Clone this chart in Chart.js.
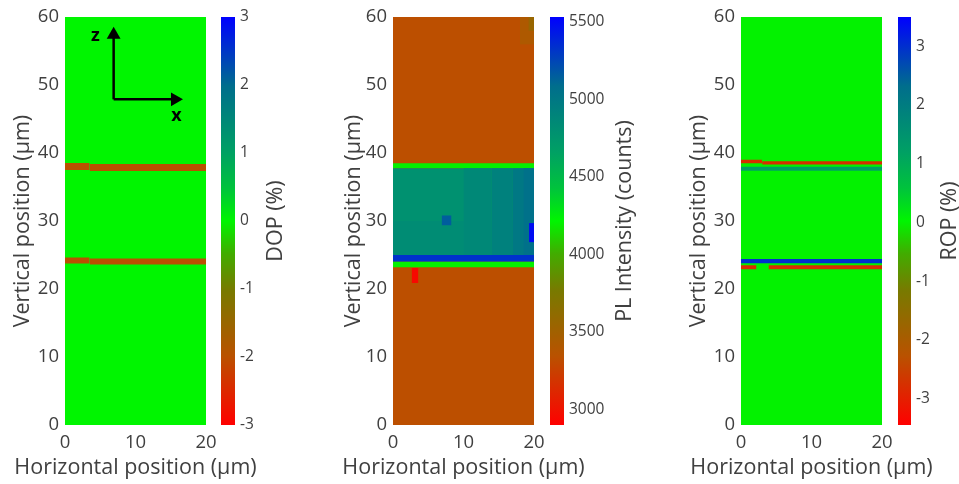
<!DOCTYPE html>
<html>
<head>
<meta charset="utf-8">
<script src="https://cdn.jsdelivr.net/npm/chart.js@4.4.0/dist/chart.umd.min.js"></script>
<style>
    html, body { margin: 0; padding: 0; background: #fff; width: 959px; height: 484px; overflow: hidden; position: relative; }
    canvas { position: absolute; top: 0; }
</style>
</head>
<body>
<script>
const xTicks = [0, 10, 20];
const yTicks = [0, 10, 20, 30, 40, 50, 60];
const dopTicks = [-3, -2, -1, 0, 1, 2, 3];
const plTicks = [3000, 3500, 4000, 4500, 5000, 5500];
const ropTicks = [-3, -2, -1, 0, 1, 2, 3];

const dopRange = [-3, 3];
const plRange = [2900, 5530];
const ropRange = [-3.45, 3.5];

// cells: [x0, x1, y0, y1, value]  (µm, µm, µm, µm, colour value)
const dopCells = [
    [0, 20, 0, 60, 0],
    [0, 3.5, 37.5, 38.55, -2],
    [3.5, 20, 37.35, 38.4, -2],
    [0, 3.5, 23.75, 24.65, -2],
    [3.5, 20, 23.6, 24.5, -2]
];

const plCells = [
    [0, 20, 0, 60, 3330],
    [18, 20, 56, 60, 3420],
    [19.2, 20, 58, 60, 3560],
    [0, 20, 37.75, 38.5, 4200],
    [0, 20, 25, 37.75, 4790],
    [0, 20, 25, 30, 4830],
    [10, 14, 25, 37.75, 4860],
    [14, 17, 25, 37.75, 4920],
    [17, 20, 25, 37.75, 5000],
    [18.5, 20, 25, 37.75, 5060],
    [0, 20, 24, 25, 5330],
    [0, 20, 23.2, 24, 4200],
    [6.9, 8.3, 29.4, 30.8, 5150],
    [19.3, 20, 26.9, 29.7, 5480],
    [2.65, 3.6, 20.9, 23.1, 2950]
];

const ropCells = [
    [0, 20, 0, 60, 0],
    [0, 3, 38.5, 39.0, -2.8],
    [3, 20, 38.3, 38.8, -2.8],
    [0, 20, 37.4, 38.0, 1.2],
    [0, 20, 23.8, 24.4, 3],
    [0, 2.2, 22.9, 23.5, -2.8],
    [3.9, 20, 22.9, 23.5, -2.8]
];

// z / x direction arrows on the first map
const arrowUp = [[6.9, 47.9], [6.9, 57.4]];
const arrowRight = [[6.9, 47.9], [15.6, 47.9]];
const arrowText = [['z', 4.3, 57.3], ['x', 15.8, 45.4]];

const cmapStops = [0, 0.17, 0.33, 0.42, 0.5, 0.58, 0.67, 0.83, 1];
const cmapColors = [[255, 0, 0], [185, 82, 0], [120, 122, 0], [65, 172, 0], [0, 245, 0], [0, 195, 60], [0, 160, 100], [0, 110, 140], [0, 0, 255]];

const FONT = "'Open Sans', 'Noto Sans', sans-serif";
const TEXT = '#404040';
const TOP = 17, BOTTOM = 425, PLOT_W = 141;
const TITLE_SIZE = 21.5;

function cmap(v, range) {
    let t = (v - range[0]) / (range[1] - range[0]);
    t = Math.max(0, Math.min(1, t));
    for (let i = 1; i < cmapStops.length; i++) {
        if (t <= cmapStops[i]) {
            const f = (t - cmapStops[i - 1]) / (cmapStops[i] - cmapStops[i - 1]);
            const a = cmapColors[i - 1], b = cmapColors[i];
            const c = a.map((ch, k) => Math.round(ch + (b[k] - ch) * f));
            return `rgb(${c[0]},${c[1]},${c[2]})`;
        }
    }
    return 'rgb(0,0,255)';
}

const panels = [
    { cells: dopCells, range: dopRange, ticks: dopTicks, label: 'DOP (%)', plotLeft: 65, yTitleX: 23, barLeft: 221, barWidth: 14, barTitleX: 276, arrows: true },
    { cells: plCells, range: plRange, ticks: plTicks, label: 'PL Intensity (counts)', plotLeft: 393, yTitleX: 354, barLeft: 550, barWidth: 14, barTitleX: 625, arrows: false },
    { cells: ropCells, range: ropRange, ticks: ropTicks, label: 'ROP (%)', plotLeft: 741, yTitleX: 699, barLeft: 898, barWidth: 13, barTitleX: 950, arrows: false }
];

function makeMap(p) {
    const canvas = document.createElement('canvas');
    const left = p.plotLeft - 65;
    const width = 65 + PLOT_W + 80;
    canvas.width = width;
    canvas.height = 484;
    canvas.style.left = left + 'px';
    document.body.appendChild(canvas);

    const datasets = p.cells.map((c, i) => ({
        data: [{ x: c[0], y: c[3] }, { x: c[1], y: c[3] }],
        fill: { value: c[2] },
        backgroundColor: cmap(c[4], p.range),
        borderColor: 'rgba(0,0,0,0)',
        borderWidth: 0,
        pointRadius: 0,
        pointHoverRadius: 0,
        order: p.cells.length - i + 10
    }));

    if (p.arrows) {
        [[arrowUp, 0], [arrowRight, 90]].forEach(([pts, rot]) => {
            datasets.push({
                data: pts.map(q => ({ x: q[0], y: q[1] })),
                fill: false,
                borderColor: '#000',
                borderWidth: 2.5,
                pointStyle: 'triangle',
                pointRotation: rot,
                pointRadius: [0, 8],
                pointBackgroundColor: '#000',
                pointBorderWidth: 0,
                order: 0
            });
        });
    }

    const labelsPlugin = {
        id: 'labels',
        afterDraw(chart) {
            const ctx = chart.ctx;
            const area = chart.chartArea;
            ctx.save();
            ctx.fillStyle = TEXT;
            ctx.font = `${TITLE_SIZE}px ${FONT}`;
            ctx.textAlign = 'center';
            ctx.textBaseline = 'middle';
            ctx.fillText('Horizontal position (µm)', (area.left + area.right) / 2, 468);
            if (p.arrows) {
                ctx.fillStyle = '#000';
                ctx.font = `bold 18px ${FONT}`;
                arrowText.forEach(([t, x, y]) => {
                    ctx.fillText(t, chart.scales.x.getPixelForValue(x), chart.scales.y.getPixelForValue(y));
                });
            }
            ctx.restore();
        }
    };

    new Chart(canvas, {
        type: 'line',
        data: { datasets },
        options: {
            responsive: false,
            animation: false,
            events: [],
            layout: { autoPadding: false, padding: { left: 0, top: TOP, right: width - 65 - PLOT_W, bottom: 0 } },
            plugins: { legend: { display: false }, tooltip: { enabled: false } },
            scales: {
                x: {
                    type: 'linear', min: 0, max: 20,
                    afterBuildTicks: s => { s.ticks = xTicks.map(v => ({ value: v })); },
                    afterFit: s => { s.height = 484 - BOTTOM; },
                    ticks: { font: { family: FONT, size: 18.5 }, color: TEXT, padding: 7, maxRotation: 0, autoSkip: false },
                    grid: { display: false, drawTicks: false },
                    border: { display: false }
                },
                y: {
                    type: 'linear', min: 0, max: 60,
                    afterBuildTicks: s => { s.ticks = yTicks.map(v => ({ value: v })); },
                    afterFit: s => { s.width = 65; },
                    ticks: { font: { family: FONT, size: 18.5 }, color: TEXT, padding: 6, autoSkip: false },
                    grid: { display: false, drawTicks: false },
                    border: { display: false },
                    title: {
                        display: true, text: 'Vertical position (µm)', color: TEXT,
                        font: { family: FONT, size: TITLE_SIZE },
                        padding: { top: p.yTitleX - left - TITLE_SIZE * 0.6, bottom: 0 }
                    }
                }
            }
        },
        plugins: [labelsPlugin]
    });
}

function makeBar(p) {
    const canvas = document.createElement('canvas');
    const left = p.barLeft - 6;
    const width = p.barTitleX + 14 - left;
    canvas.width = width;
    canvas.height = 484;
    canvas.style.left = left + 'px';
    document.body.appendChild(canvas);

    const titlePlugin = {
        id: 'barTitle',
        afterDraw(chart) {
            const ctx = chart.ctx;
            const area = chart.chartArea;
            ctx.save();
            ctx.translate(p.barTitleX - left, (area.top + area.bottom) / 2);
            ctx.rotate(-Math.PI / 2);
            ctx.fillStyle = TEXT;
            ctx.font = `${TITLE_SIZE}px ${FONT}`;
            ctx.textAlign = 'center';
            ctx.textBaseline = 'middle';
            ctx.fillText(p.label, 0, 0);
            ctx.restore();
        }
    };

    new Chart(canvas, {
        type: 'bar',
        data: {
            labels: [''],
            datasets: [{
                data: [p.range],
                backgroundColor(context) {
                    const area = context.chart.chartArea;
                    if (!area) return null;
                    const g = context.chart.ctx.createLinearGradient(0, area.bottom, 0, area.top);
                    cmapStops.forEach((s, i) => {
                        const c = cmapColors[i];
                        g.addColorStop(s, `rgb(${c[0]},${c[1]},${c[2]})`);
                    });
                    return g;
                },
                borderWidth: 0,
                barPercentage: 1,
                categoryPercentage: 1
            }]
        },
        options: {
            responsive: false,
            animation: false,
            events: [],
            layout: { autoPadding: false, padding: { left: 6, top: TOP, right: 0, bottom: 484 - BOTTOM } },
            plugins: { legend: { display: false }, tooltip: { enabled: false } },
            scales: {
                x: { display: false },
                y: {
                    position: 'right',
                    min: p.range[0], max: p.range[1],
                    afterBuildTicks: s => { s.ticks = p.ticks.map(v => ({ value: v })); },
                    afterFit: s => { s.width = width - 6 - p.barWidth; },
                    ticks: { font: { family: FONT, size: 15.5 }, color: TEXT, padding: 5, autoSkip: false, callback: v => String(v) },
                    grid: { display: false, drawTicks: false },
                    border: { display: false }
                }
            }
        },
        plugins: [titlePlugin]
    });
}

panels.forEach(p => {
    makeMap(p);
    makeBar(p);
});
</script>
</body>
</html>
